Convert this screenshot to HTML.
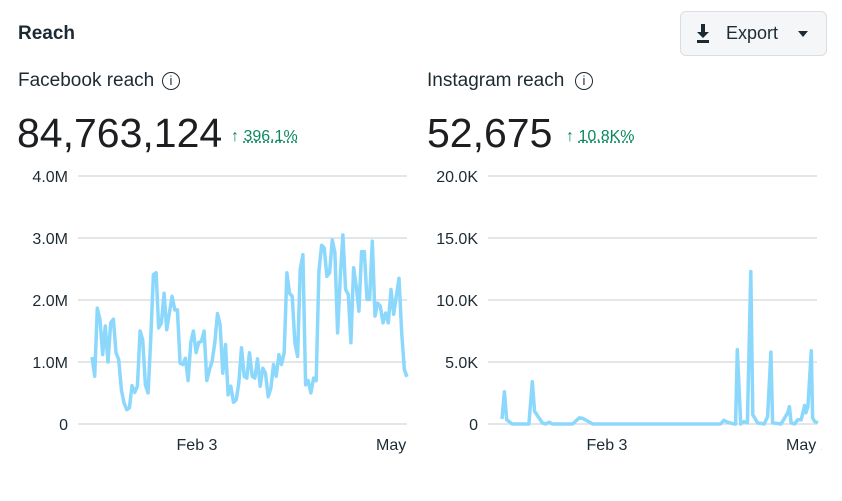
<!DOCTYPE html>
<html><head><meta charset="utf-8"><style>
body{margin:0;width:842px;height:501px;background:#fff;font-family:"Liberation Sans",sans-serif;color:#1c2b33;position:relative;overflow:hidden}
.abs{position:absolute;white-space:nowrap}
.title{left:18px;top:23px;font-size:19px;font-weight:bold}
.btn{left:680px;top:11px;width:147px;height:45px;border:1px solid #dadde1;border-radius:6px;box-sizing:border-box;background:#f5f6f7}
.lbl{font-size:19px;top:70px}
.big{font-size:41px;top:110px;color:#1c1e21}
.chg{font-size:16px;color:#0a8a5c;top:128px}
.chg u{text-decoration:underline dotted}
.info{position:absolute;top:72px;width:18px;height:18px;border:1.5px solid #1c2b33;border-radius:50%;box-sizing:border-box;font-size:13px;text-align:center;line-height:15px}
svg{position:absolute;left:0;top:0}
</style></head><body>
<div class="abs title">Reach</div>
<div class="abs btn">
 <svg width="145" height="43" style="position:absolute;left:0;top:0"><path d="M20 12h4v8h4l-6 6-6-6h4z M16 28h12v3H16z" fill="#1c2b33"/><path d="M117 19h10l-5 6z" fill="#1c2b33"/></svg>
 <span class="abs" style="left:45px;top:11px;font-size:18px">Export</span>
</div>
<div class="abs lbl" style="left:18px">Facebook reach</div>
<div class="info" style="left:162px">i</div>
<div class="abs big" style="left:17px">84,763,124</div>
<div class="abs chg" style="left:231px">↑ <u>396.1%</u></div>
<div class="abs lbl" style="left:427px">Instagram reach</div>
<div class="info" style="left:575px">i</div>
<div class="abs big" style="left:427px">52,675</div>
<div class="abs chg" style="left:566px">↑ <u>10.8K%</u></div>
<svg id="c" width="842" height="501">
<defs><clipPath id="cf"><rect x="0" y="430" width="410" height="40"/></clipPath><clipPath id="ci"><rect x="420" y="430" width="402" height="40"/></clipPath></defs>
</svg>
<script>
const fbTicks=["0","1.0M","2.0M","3.0M","4.0M"];
const fbValues=[1.08,.77,1.87,1.68,1.12,1.58,1.0,1.63,1.69,1.15,1.04,.55,.34,.23,.26,.62,.51,.61,1.5,1.36,.63,.5,1.36,2.41,2.44,1.55,1.63,2.11,1.52,1.79,2.06,1.84,1.84,.98,.96,1.06,.7,1.31,1.5,1.15,1.32,1.33,1.5,.7,.88,1.01,1.31,1.78,1.6,.82,1.28,.47,.61,.35,.39,.66,1.23,.77,.74,1.15,.77,.74,1.05,.61,.9,.82,.44,.58,.96,.77,1.12,.96,1.15,2.44,2.11,2.06,1.31,1.09,2.49,2.73,.63,.7,.5,.74,.7,2.46,2.88,2.84,2.38,2.44,2.97,2.76,1.47,2.38,3.05,2.17,2.09,1.31,2.52,2.22,1.82,2.78,2.78,2.01,2.01,2.95,1.74,1.95,1.9,1.63,1.79,1.63,2.17,1.77,2.06,2.35,1.47,.88,.76];
const igTicks=["0","5.0K","10.0K","15.0K","20.0K"];
const igDays=[0,0.7,1.4,3,8,9,9.7,10,12,13,14,15,21,23,24,26,27,65,66,67,69,69.5,70,71,72,73,74,74.6,76,78,79,80,80.5,83,85,85.5,86,87,88,89,90,90.4,91,92,92.4,93,94];
const igValues=[.4,2.6,.35,0,0,3.4,1.0,.9,.1,0,.15,0,0,.5,.45,.15,0,0,.3,.15,0,0,6.0,0,.2,.1,12.3,.75,.1,0,.6,5.8,.1,0,.9,1.4,.1,0,.35,.35,1.5,.9,1.4,5.9,.5,.2,.1];
const xLabels=["Feb 3","May 1"];
const svg=document.getElementById('c');const NS="http://www.w3.org/2000/svg";
function mk(t,a,txt){const e=document.createElementNS(NS,t);for(const k in a)e.setAttribute(k,a[k]);if(txt!=null)e.textContent=txt;svg.appendChild(e);return e;}
function chart(gx0,gx1,lx0,lx1,maxV,ticks,xs,ys,xMax,tickRight,febX,mayX,name,clip){
 const y=v=>424-v/maxV*248;const x=d=>lx0+d/xMax*(lx1-lx0);
 ticks.forEach((t,i)=>{const v=i*maxV/4;
  const l=mk('line',{x1:gx0,x2:gx1,y1:y(v),y2:y(v),stroke:'#dadde1','stroke-width':1.5});
  
  const tx=mk('text',{x:tickRight,y:y(v)+6,'text-anchor':'end','font-size':16,fill:'#1c2b33','font-family':'Liberation Sans'},t);
  });
 const p=xs.map((d,i)=>(i?'L':'M')+x(d).toFixed(1)+' '+y(ys[i]).toFixed(1)).join('');
 const path=mk('path',{d:p,fill:'none',stroke:'#8cd8fc','stroke-width':3.5,'stroke-linejoin':'round'});
 
 [[febX,xLabels[0],'middle'],[mayX,xLabels[1],'start']].forEach(([xx,t,an])=>{const e=mk('text',{x:xx,y:450,'text-anchor':an,'font-size':16,fill:'#1c2b33','font-family':'Liberation Sans','clip-path':'url(#'+clip+')'},t);
  });
}
chart(78,407,92,407,4,fbTicks,fbValues.map((v,i)=>i),fbValues,fbValues.length-1,68,197,376,'facebook','cf');
chart(488,817,502,818,20,igTicks,igDays,igValues,94,478,607,786,'instagram','ci');
</script>
</body></html>
